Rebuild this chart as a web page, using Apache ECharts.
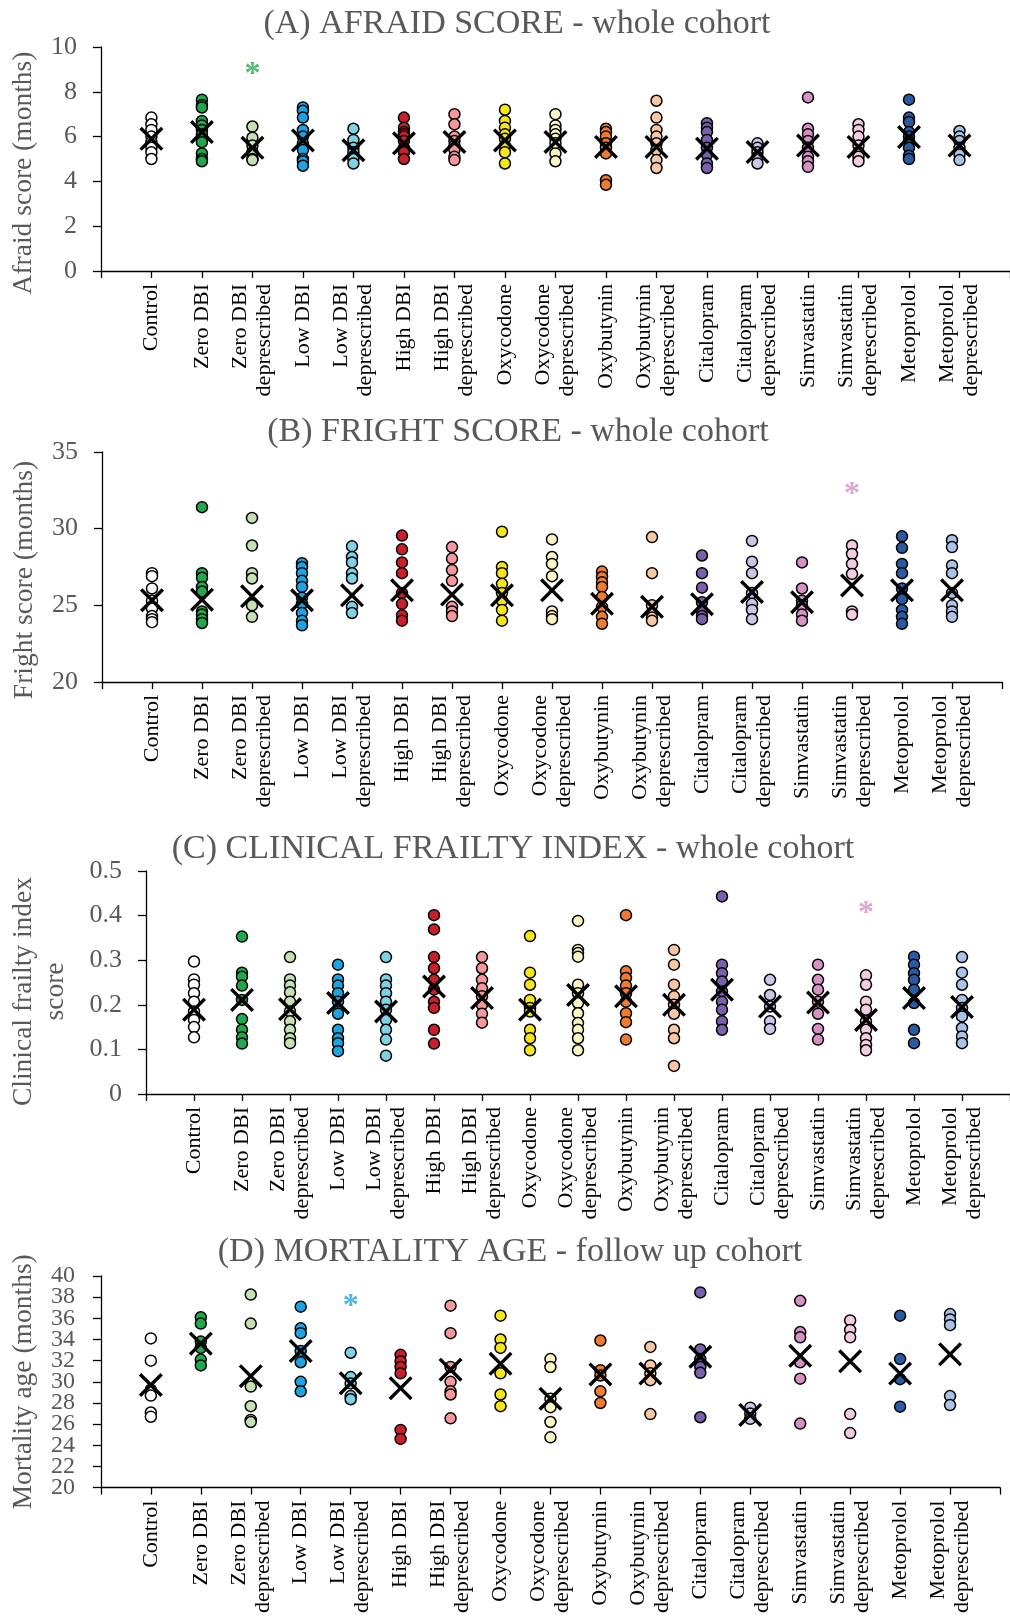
<!DOCTYPE html>
<html>
<head>
<meta charset="utf-8">
<script src="https://cdn.jsdelivr.net/npm/echarts@6/dist/echarts.min.js"></script>
<style>html,body{margin:0;padding:0;background:#fff;}#c{width:1010px;height:1616px;}</style>
</head>
<body>
<div id="c"></div>
<script>
const categories = ['Control','Zero DBI','Zero DBI\ndeprescribed','Low DBI','Low DBI\ndeprescribed','High DBI','High DBI\ndeprescribed','Oxycodone','Oxycodone\ndeprescribed','Oxybutynin','Oxybutynin\ndeprescribed','Citalopram','Citalopram\ndeprescribed','Simvastatin','Simvastatin\ndeprescribed','Metoprolol','Metoprolol\ndeprescribed'];
const groupColors = ['#ffffff','#22a84c','#c5e0b3','#1fa3e0','#7fd1e3','#c8202a','#f4989c','#f5e61a','#fbf6c3','#ee7b30','#f8c8a4','#7a5fad','#c9c7e6','#d590c4','#f2cde2','#2a5aa0','#a9c2e5'];

const titles = ['(A) AFRAID SCORE - whole cohort','(B) FRIGHT SCORE - whole cohort','(C) CLINICAL FRAILTY INDEX - whole cohort','(D) MORTALITY AGE - follow up cohort'];
const yNames = ['Afraid score (months)','Fright score (months)','Clinical frailty index\nscore','Mortality age (months)'];

// (A) Afraid score points per group
const afraidPoints = [
  [6.85,6.55,6.3,6.0,5.75,5.5,5.3,5.0],
  [7.65,7.4,7.3,6.7,6.5,6.3,6.1,5.75,5.25,5.0,4.9],
  [6.45,5.95,5.6,5.3,5.0,4.95],
  [7.3,7.15,6.85,6.3,6.0,5.7,5.4,5.0,4.9,4.7],
  [6.35,5.85,5.5,5.3,5.1,5.0,4.8],
  [6.85,6.4,6.2,6.1,6.0,5.8,5.5,5.3,5.0],
  [7.0,6.55,6.0,5.8,5.6,5.4,5.1,4.95],
  [7.2,6.7,6.4,6.1,5.9,5.6,5.3,4.8],
  [7.0,6.5,6.3,6.1,5.9,5.7,5.25,4.9],
  [6.35,6.2,6.0,5.7,5.5,5.25,4.05,3.85],
  [7.6,6.85,6.3,6.0,5.7,5.4,4.95,4.6],
  [6.6,6.4,6.2,5.85,5.5,5.2,4.8,4.6],
  [5.7,5.5,5.3,5.1,4.8],
  [7.75,6.35,6.1,5.8,5.5,5.1,4.9,4.65],
  [6.55,6.3,6.0,5.6,5.3,5.1,4.9],
  [7.65,6.85,6.65,6.2,6.0,5.8,5.5,5.15,5.0],
  [6.25,6.0,5.8,5.5,5.2,4.95]
];
const afraidMeans = [5.9,6.2,5.5,5.83,5.39,5.7,5.76,5.83,5.76,5.54,5.54,5.46,5.31,5.6,5.54,5.98,5.6];

// (B) Fright score
const frightPoints = [
  [27.1,26.9,26.1,25.3,24.8,24.3,24.1,23.9],
  [31.4,27.1,26.8,26.2,25.9,24.6,24.4,24.1,23.85],
  [30.7,28.9,27.1,26.75,25.0,24.25],
  [27.75,27.5,27.1,26.6,26.2,25.5,25.1,24.5,24.0,23.7],
  [28.85,28.15,27.8,27.1,26.75,24.9,24.5],
  [29.55,28.65,27.8,27.1,25.8,25.1,24.35,24.0],
  [28.8,28.05,27.3,26.6,24.9,24.6,24.3],
  [29.8,27.5,27.1,26.4,25.8,25.3,24.7,24.0],
  [29.3,28.15,27.7,26.9,24.6,24.3,24.1],
  [27.2,26.85,26.5,26.2,25.55,24.9,24.25,23.8],
  [29.45,27.1,25.0,24.5,24.2,24.0],
  [28.25,27.1,26.15,25.2,24.65,24.3,24.1],
  [29.2,27.85,27.1,25.8,25.1,24.7,24.1],
  [27.8,26.1,25.3,25.0,24.4,24.0],
  [28.9,28.35,27.7,27.05,24.6,24.4],
  [29.5,28.75,27.7,27.1,26.1,25.4,24.7,24.25,23.8],
  [29.25,28.8,27.6,27.1,25.8,25.0,24.6,24.25]
];
const frightMeans = [25.33,25.37,25.59,25.33,25.65,25.98,25.7,25.65,25.98,25.1,24.9,25.07,25.87,25.2,26.3,25.98,25.98];

// (C) Clinical frailty index
const frailtyPoints = [
  [0.297,0.257,0.245,0.226,0.207,0.185,0.166,0.15,0.127],
  [0.353,0.272,0.263,0.243,0.211,0.168,0.144,0.127,0.113],
  [0.307,0.257,0.243,0.228,0.207,0.185,0.163,0.144,0.125,0.114],
  [0.29,0.257,0.243,0.226,0.207,0.18,0.144,0.125,0.114,0.096],
  [0.307,0.257,0.243,0.226,0.207,0.189,0.166,0.144,0.122,0.086],
  [0.401,0.369,0.307,0.282,0.256,0.234,0.207,0.193,0.144,0.113],
  [0.307,0.282,0.256,0.237,0.219,0.2,0.18,0.16],
  [0.354,0.272,0.245,0.211,0.193,0.185,0.144,0.125,0.098],
  [0.388,0.323,0.316,0.308,0.245,0.226,0.204,0.181,0.159,0.144,0.125,0.098],
  [0.401,0.275,0.26,0.243,0.226,0.207,0.181,0.161,0.122],
  [0.323,0.29,0.245,0.219,0.2,0.18,0.144,0.125,0.063],
  [0.443,0.29,0.271,0.252,0.23,0.207,0.189,0.163,0.144],
  [0.256,0.222,0.196,0.163,0.146],
  [0.29,0.256,0.234,0.207,0.18,0.146,0.122],
  [0.266,0.245,0.207,0.189,0.163,0.144,0.125,0.11,0.098],
  [0.308,0.29,0.271,0.256,0.234,0.204,0.144,0.114],
  [0.307,0.272,0.245,0.211,0.193,0.174,0.148,0.129,0.114]
];
const frailtyMeans = [0.189,0.211,0.19,0.204,0.185,0.241,0.215,0.189,0.222,0.219,0.2,0.234,0.196,0.205,0.166,0.215,0.195];

// (D) Mortality age
const mortalityPoints = [
  [34.1,32.0,29.25,28.7,27.1,26.7],
  [36.1,35.5,33.8,33.2,32.1,31.55],
  [38.25,35.5,29.55,27.7,26.4,26.2],
  [37.1,35.05,34.6,32.9,31.85,30.0,29.1],
  [32.75,30.45,29.85,28.65,28.35],
  [32.55,31.95,31.4,30.8,25.45,24.6],
  [37.2,34.6,31.4,30.0,29.1,28.8,26.55],
  [36.25,34.0,33.2,30.8,28.8,27.7],
  [32.15,31.4,28.4,27.6,26.2,24.75],
  [33.9,31.1,30.6,29.1,28.0],
  [33.3,31.55,30.8,30.15,26.95],
  [38.45,33.05,32.15,31.4,30.85,26.65],
  [27.55,27.0,26.5],
  [37.65,34.7,34.2,31.85,30.3,26.05],
  [35.8,34.9,34.2,26.95,25.15],
  [36.25,32.15,30.25,27.65],
  [36.4,35.9,35.35,28.65,27.8]
];
const mortalityMeans = [29.7,33.6,30.53,32.9,29.86,29.4,31.15,31.7,28.4,30.7,30.78,32.37,26.87,32.46,31.94,30.78,32.6];

// significance asterisks: [group index (1-based), value]
const starGroups = [3, 15, 15, 5];
const starValues = [9.06, 32.65, 0.419, 37.8];
const starColors = ['#22a84c', '#d590c4', '#d590c4', '#1fa3e0'];

const yMins = [0, 20, 0, 20];
const yMaxs = [10, 35, 0.5, 40];
const yIntervals = [2, 5, 0.1, 2];

// layout
const grids = [
  {left: 100, top: 47, width: 918, height: 224},
  {left: 102, top: 452, width: 900, height: 230},
  {left: 138, top: 871, width: 873, height: 223},
  {left: 100, top: 1276, width: 900, height: 218}
];
const nameGaps = [60, 60, 74, 58];
const namePads = [[0, 28, 0, 0], [0, 26, 0, 0], [0, 18, 0, 0], [0, 0, 0, 0]];
const tickFont = [26, 26, 26, 24];
const tickMargin = [24, 24, 24, 26];
const titlePos = [[517, 24], [518, 432], [513, 849], [510, 1252]];

const allPoints = [afraidPoints, frightPoints, frailtyPoints, mortalityPoints];
const allMeans = [afraidMeans, frightMeans, frailtyMeans, mortalityMeans];

const FONT = "'Liberation Serif', 'Times New Roman', serif";
const GRAY = '#595959';
const crossPath = 'path://M0,2.4L2.4,0L12,9.6L21.6,0L24,2.4L14.4,12L24,21.6L21.6,24L12,14.4L2.4,24L0,21.6L9.6,12Z';

const xAxes = [], yAxes = [], series = [];
for (let p = 0; p < 4; p++) {
  xAxes.push({
    type: 'value', gridIndex: p, min: 0, max: 18, interval: 1,
    splitLine: {show: false},
    axisLine: {onZero: false, lineStyle: {color: '#000', width: 1.3}},
    axisTick: {show: true, length: 7, lineStyle: {color: '#000', width: 1.3}},
    axisLabel: {
      rotate: 90, margin: 13, color: '#000', fontFamily: FONT, fontSize: 22, lineHeight: 24,
      showMinLabel: true, showMaxLabel: true,
      formatter: v => (v >= 1 && v <= 17 && Math.abs(v - Math.round(v)) < 1e-6) ? categories[Math.round(v) - 1] : ''
    }
  });
  const isD = p === 3;
  yAxes.push({
    type: 'value', gridIndex: p, min: yMins[p], max: yMaxs[p], interval: yIntervals[p],
    splitLine: {show: false},
    axisLine: {show: true, onZero: false, lineStyle: {color: '#000', width: 1.3}},
    axisTick: {show: true, length: 8, lineStyle: {color: '#000', width: 1.3}},
    axisLabel: {color: GRAY, fontFamily: FONT, fontSize: tickFont[p], margin: tickMargin[p],
      showMinLabel: true, showMaxLabel: true, hideOverlap: false,
      formatter: isD ? (v => (Math.round(v) % 4 === 0 ? String(Math.round(v)) : '')) : null},
    name: yNames[p], nameLocation: 'middle', nameGap: nameGaps[p],
    nameTextStyle: {color: GRAY, fontFamily: FONT, fontSize: 27.5, lineHeight: 32, padding: namePads[p]}
  });
  const pts = [];
  allPoints[p].forEach((arr, gi) => {
    arr.forEach(v => pts.push({value: [gi + 1, v], itemStyle: {color: groupColors[gi]}}));
  });
  series.push({
    type: 'scatter', xAxisIndex: p, yAxisIndex: p, data: pts,
    symbol: 'circle', symbolSize: 11, z: 2,
    itemStyle: {borderColor: '#000', borderWidth: 1.5, opacity: 1},
    emphasis: {disabled: true}, silent: true
  });
  series.push({
    type: 'scatter', xAxisIndex: p, yAxisIndex: p,
    data: allMeans[p].map((m, gi) => [gi + 1, m]),
    symbol: crossPath, symbolSize: 24, z: 3,
    itemStyle: {color: '#000', opacity: 1},
    emphasis: {disabled: true}, silent: true
  });
  series.push({
    type: 'scatter', xAxisIndex: p, yAxisIndex: p,
    data: [[starGroups[p], starValues[p]]],
    symbolSize: 1, z: 4,
    itemStyle: {color: 'rgba(0,0,0,0)'},
    label: {show: true, position: 'inside', formatter: '*', color: starColors[p], fontFamily: FONT, fontSize: 32, fontWeight: 'bold', offset: [0, 7]},
    emphasis: {disabled: true}, silent: true
  });
}
// companion label axis for panel D (labels 22, 26, ... 38)
yAxes.push({
  type: 'value', gridIndex: 3, position: 'left', min: 20, max: 40, interval: 2,
  splitLine: {show: false}, axisLine: {show: false}, axisTick: {show: false},
  axisLabel: {color: GRAY, fontFamily: FONT, fontSize: 24, margin: 26, hideOverlap: false,
    formatter: v => (Math.round(v) % 4 === 2 ? String(Math.round(v)) : '')}
});

const chart = echarts.init(document.getElementById('c'), null, {renderer: 'canvas'});
chart.setOption({
  backgroundColor: '#fff',
  animation: false,
  grid: grids,
  xAxis: xAxes,
  yAxis: yAxes,
  series: series,
  graphic: titles.map((t, i) => ({
    type: 'text', x: titlePos[i][0], y: titlePos[i][1], silent: true,
    style: {text: t, fill: GRAY, font: '34px ' + FONT, textAlign: 'center', textVerticalAlign: 'middle'}
  }))
});
</script>
</body>
</html>
